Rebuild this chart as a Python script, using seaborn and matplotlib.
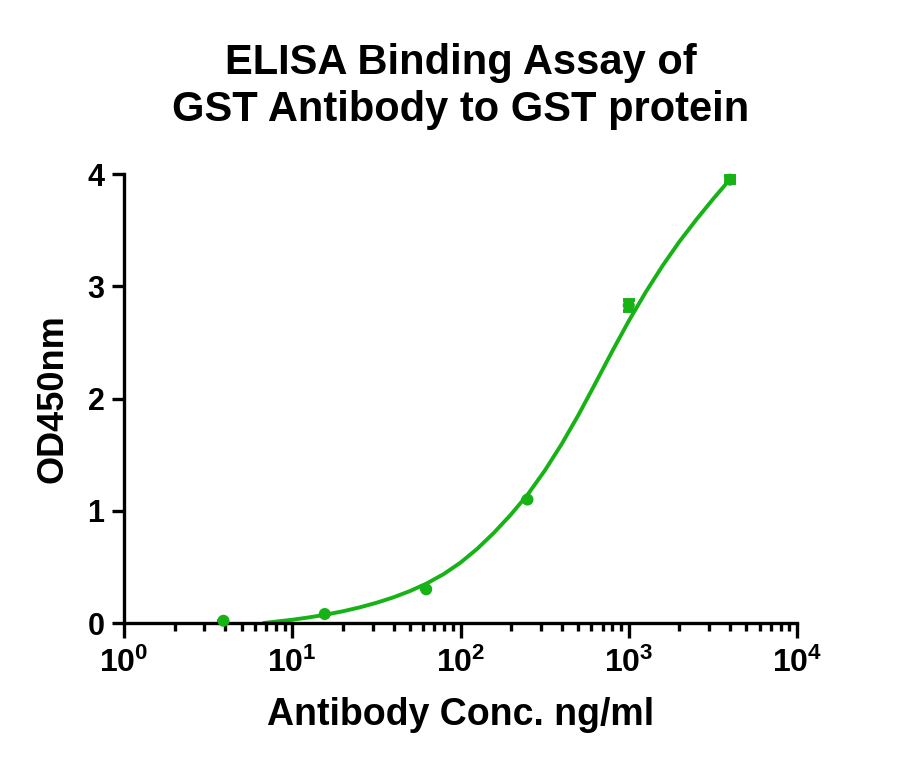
import numpy as np
import pandas as pd
import seaborn as sns
import matplotlib.pyplot as plt
from matplotlib.ticker import LogLocator, FixedLocator

# measured points (mean of replicates) and spread
conc = [3.9, 15.6, 62.5, 250, 1000, 4000]
od450 = [0.02, 0.08, 0.30, 1.10, 2.83, 3.95]
od_sd = [0.0, 0.0, 0.0, 0.0, 0.05, 0.03]

# fitted curve (log10 of concentration, OD)
curve_log = [0.83, 0.9, 1.0, 1.1, 1.2, 1.3, 1.4, 1.5, 1.6, 1.7, 1.8, 1.9, 2.0,
             2.1, 2.2, 2.3, 2.4, 2.5, 2.6, 2.7, 2.8, 2.9, 3.0, 3.1, 3.2, 3.3,
             3.4, 3.5, 3.6]
curve_od = [0.0, 0.012, 0.029, 0.05, 0.075, 0.104, 0.139, 0.18, 0.228, 0.285,
            0.353, 0.436, 0.538, 0.662, 0.806, 0.967, 1.146, 1.356, 1.591, 1.851,
            2.131, 2.416, 2.691, 2.946, 3.181, 3.396, 3.591, 3.775, 3.95]

title = "ELISA Binding Assay of\nGST Antibody to GST protein"
xlabel = "Antibody Conc. ng/ml"
ylabel = "OD450nm"
xticks = [1, 10, 100, 1000, 10000]
xticklabels = [r"$\mathbf{10^{0}}$", r"$\mathbf{10^{1}}$", r"$\mathbf{10^{2}}$",
               r"$\mathbf{10^{3}}$", r"$\mathbf{10^{4}}$"]
yticks = [0, 1, 2, 3, 4]

green = "#16b216"

sns.set_theme(style="ticks")
plt.rcParams["font.family"] = ["Liberation Sans", "DejaVu Sans"]
plt.rcParams["font.weight"] = "bold"
plt.rcParams["mathtext.fontset"] = "custom"
plt.rcParams["mathtext.rm"] = "Liberation Sans:bold"
plt.rcParams["mathtext.bf"] = "Liberation Sans:bold"
for key in ["text.color", "axes.labelcolor", "xtick.color", "ytick.color",
            "xtick.labelcolor", "ytick.labelcolor"]:
    plt.rcParams[key] = "black"

points = pd.DataFrame({"conc": conc, "od": od450, "sd": od_sd})
curve = pd.DataFrame({"conc": np.power(10.0, curve_log), "od": curve_od})

fig = plt.figure(figsize=(9.02, 7.68), dpi=100)
ax = fig.add_axes([0.1375, 0.1888, 0.7461, 0.5846])

sns.lineplot(data=curve, x="conc", y="od", ax=ax, color=green, linewidth=2.8)
ax.errorbar(points["conc"], points["od"], yerr=points["sd"], fmt="none",
            ecolor=green, elinewidth=2.8, capsize=4.5, capthick=2.8, clip_on=False)
sns.scatterplot(data=points, x="conc", y="od", ax=ax, color=green, s=75,
                edgecolor="none", clip_on=False, zorder=5)

ax.set_xscale("log")
ax.set_xlim(1, 10000)
ax.set_ylim(0, 4)
ax.xaxis.set_major_locator(FixedLocator(xticks))
ax.xaxis.set_minor_locator(LogLocator(base=10, subs=np.arange(2, 10), numticks=20))
ax.set_xticklabels(xticklabels)
ax.set_yticks(yticks)
ax.set_yticklabels([str(v) for v in yticks])

for side in ["top", "right"]:
    ax.spines[side].set_visible(False)
for side in ["left", "bottom"]:
    ax.spines[side].set_linewidth(2.4)
    ax.spines[side].set_color("black")

ax.tick_params(axis="y", which="major", length=9, width=2.4, labelsize=22, pad=5)
ax.tick_params(axis="x", which="minor", length=6, width=2.4)
ax.tick_params(axis="x", which="major", length=11, width=2.4, labelsize=23, pad=7)

ax.set_xlabel(xlabel, fontsize=27, fontweight="bold", labelpad=13)
ax.set_ylabel(ylabel, fontsize=26, fontweight="bold", labelpad=12)
ax.set_title(title, fontsize=30, fontweight="bold", pad=38, linespacing=1.22)

fig.savefig("out.png", dpi=100, facecolor="white")
